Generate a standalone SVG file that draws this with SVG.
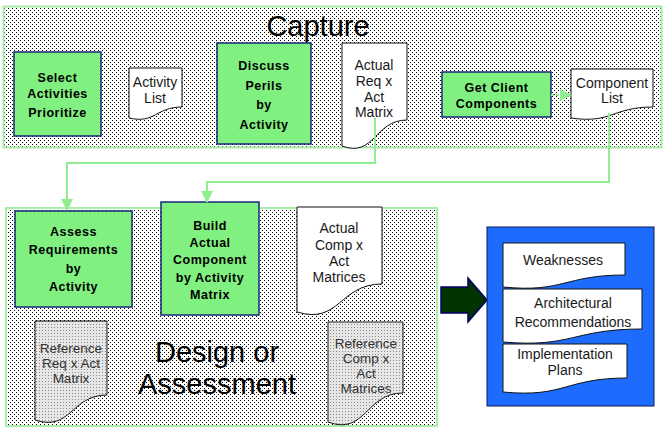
<svg xmlns="http://www.w3.org/2000/svg" width="672" height="431" viewBox="0 0 672 431">
<defs>
<pattern id="dots" width="4" height="4" patternUnits="userSpaceOnUse">
<rect width="4" height="4" fill="#ffffff"/>
<rect x="0" y="0" width="1" height="1" fill="#000"/>
<rect x="2" y="2" width="1" height="1" fill="#000"/>
</pattern>
<pattern id="graydots" width="3" height="3" patternUnits="userSpaceOnUse">
<rect width="3" height="3" fill="#e6e6e6"/>
<rect x="0" y="0" width="1" height="1" fill="#8a8a8a"/>
</pattern>
<marker id="ah" viewBox="0 0 12 12" refX="11" refY="6" markerWidth="12" markerHeight="12" markerUnits="userSpaceOnUse" orient="auto">
<path d="M0,0 L12,6 L0,12 Z" fill="#90EE90"/>
</marker>
<style>
.region{fill:url(#dots);stroke:#a8eea8;stroke-width:2}
.proc{fill:#80F080;stroke:#14287a;stroke-width:1.5}
.doc{fill:#ffffff;stroke:#111;stroke-width:1}
.refdoc{fill:url(#graydots);stroke:#111;stroke-width:1}
.bt{font-family:"Liberation Sans",Arial,sans-serif;font-weight:bold;font-size:12.5px;letter-spacing:0.5px;text-anchor:middle;fill:#000}
.dt{font-family:"Liberation Sans",Arial,sans-serif;font-size:14px;text-anchor:middle;fill:#1a1a1a}
.rt{font-family:"Liberation Sans",Arial,sans-serif;font-size:13.5px;text-anchor:middle;fill:#333}
.big{font-family:"Liberation Sans",Arial,sans-serif;font-size:29px;text-anchor:middle;fill:#000}
.conn{fill:none;stroke:#90EE90;stroke-width:2}
</style>
</defs>
<rect width="672" height="431" fill="#ffffff"/>

<g id="capture-region">
<rect class="region" x="3.5" y="6.5" width="658" height="141"/>
<text class="big" x="318" y="36">Capture</text>
</g>
<g id="design-region">
<rect class="region" x="6" y="208" width="431" height="218"/>
<text class="big" x="217" y="362">Design or</text>
<text class="big" x="217" y="394">Assessment</text>
</g>

<g id="select-activities">
<rect class="proc" x="14" y="52" width="87" height="84"/>
<text class="bt" x="57.5" y="82">Select</text>
<text class="bt" x="57.5" y="98">Activities</text>
<text class="bt" x="57.5" y="117">Prioritize</text>
</g>
<g id="activity-list">
<path class="doc" d="M129,68 H182 V107 C155.5,107 155.5,124 129,118 Z"/>
<text class="dt" x="155" y="87">Activity</text>
<text class="dt" x="155" y="103">List</text>
</g>
<g id="discuss-perils">
<rect class="proc" x="217" y="43" width="94" height="101"/>
<text class="bt" x="264" y="70">Discuss</text>
<text class="bt" x="264" y="90">Perils</text>
<text class="bt" x="264" y="109">by</text>
<text class="bt" x="264" y="129">Activity</text>
</g>
<g id="actual-req-matrix">
<path class="doc" d="M342,43 H407 V120 C374.5,120 374.5,158 342,146 Z"/>
<text class="dt" x="374" y="70">Actual</text>
<text class="dt" x="374" y="86">Req x</text>
<text class="dt" x="374" y="102">Act</text>
<text class="dt" x="374" y="117">Matrix</text>
</g>
<g id="get-client-components">
<rect class="proc" x="442" y="72" width="109" height="45"/>
<text class="bt" x="496.5" y="92">Get Client</text>
<text class="bt" x="496.5" y="108">Components</text>
</g>
<g id="component-list">
<path class="doc" d="M571,69 H653 V107 C612,107 612,124 571,118 Z"/>
<text class="dt" x="612" y="88">Component</text>
<text class="dt" x="612" y="103">List</text>
</g>

<g id="assess-requirements">
<rect class="proc" x="15" y="211" width="117" height="96"/>
<text class="bt" x="73.5" y="236">Assess</text>
<text class="bt" x="73.5" y="254">Requirements</text>
<text class="bt" x="73.5" y="273">by</text>
<text class="bt" x="73.5" y="291">Activity</text>
</g>
<g id="build-actual-component">
<rect class="proc" x="161" y="202" width="98" height="113"/>
<text class="bt" x="210" y="230">Build</text>
<text class="bt" x="210" y="247">Actual</text>
<text class="bt" x="210" y="264">Component</text>
<text class="bt" x="210" y="282">by Activity</text>
<text class="bt" x="210" y="299">Matrix</text>
</g>
<g id="actual-comp-matrices">
<path class="doc" d="M297,207 H382 V284 C339.5,284 339.5,325 297,312 Z"/>
<text class="dt" x="339" y="233">Actual</text>
<text class="dt" x="339" y="250">Comp x</text>
<text class="dt" x="339" y="266">Act</text>
<text class="dt" x="339" y="282">Matrices</text>
</g>
<g id="reference-req-matrix">
<path class="refdoc" d="M35,321 H107 V395 C71,395 71,432 35,420 Z"/>
<text class="rt" x="71" y="353">Reference</text>
<text class="rt" x="71" y="368">Req x Act</text>
<text class="rt" x="71" y="383">Matrix</text>
</g>
<g id="reference-comp-matrices">
<path class="refdoc" d="M328,322 H403 V393 C365.5,393 365.5,436 328,422 Z"/>
<text class="rt" x="366" y="348">Reference</text>
<text class="rt" x="366" y="363">Comp x</text>
<text class="rt" x="366" y="378">Act</text>
<text class="rt" x="366" y="393">Matrices</text>
</g>

<g id="big-arrow">
<polygon points="441,287 468,287 468,278 487,300 468,322 468,313 441,313" fill="#003300" stroke="#000066" stroke-width="1.5"/>
</g>
<g id="results-box">
<rect x="487" y="227" width="167" height="179" fill="#1E6CFF" stroke="#0a1a50" stroke-width="1"/>
</g>
<g id="weaknesses">
<path class="doc" d="M503,243 H625 V275 C564,275 564,293 503,287 Z"/>
<text class="dt" x="563" y="265">Weaknesses</text>
</g>
<g id="architectural-recommendations">
<path class="doc" d="M503,289 H642 V329 C572.5,329 572.5,348 503,342 Z"/>
<text class="dt" x="573" y="308">Architectural</text>
<text class="dt" x="573" y="327">Recommendations</text>
</g>
<g id="implementation-plans">
<path class="doc" d="M503,344 H627 V378 C565,378 565,398 503,392 Z"/>
<text class="dt" x="565" y="359">Implementation</text>
<text class="dt" x="565" y="375">Plans</text>
</g>

<g id="connectors">
<path class="conn" d="M375,118 V163 H67 V210" marker-end="url(#ah)"/>
<path class="conn" d="M609,113 V182 H207 V202" marker-end="url(#ah)"/>
<path class="conn" d="M551,95 H571" stroke-dasharray="3,2" marker-end="url(#ah)"/>
</g>
</svg>
